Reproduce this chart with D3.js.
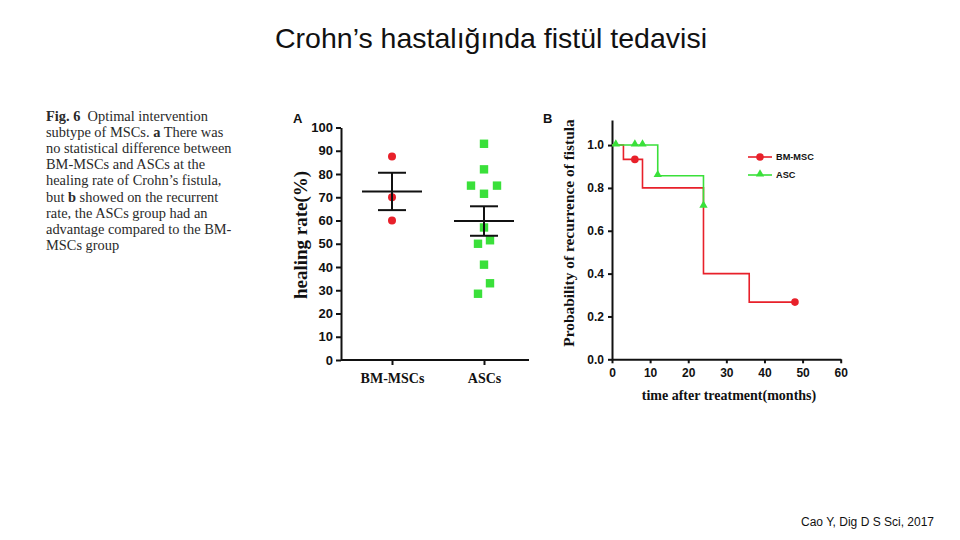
<!DOCTYPE html>
<html><head><meta charset="utf-8">
<script src="https://cdn.jsdelivr.net/npm/d3@7"></script>
<style>
html,body{margin:0;padding:0;background:#fff;}
svg{display:block;}
</style></head>
<body>
<svg id="c" width="960" height="540"></svg>
<script>
// ---------- data ----------
const titleText = "Crohn’s hastalığında fistül tedavisi";
const sourceText = "Cao Y, Dig D S Sci, 2017";
const categories = ["BM-MSCs", "ASCs"];
const bmHealing = [87.5, 70, 60];
const ascHealing = [93, 82, 75, 75, 71.5, 57, 51.5, 50, 41, 33, 28.5];
const healingTicks = [0,10,20,30,40,50,60,70,80,90,100];

const bmTimes = [0, 3, 8, 24, 36, 48];
const bmSurv  = [1, 0.933, 0.8, 0.4, 0.267, 0.267];
const bmCensorTimes = [6, 48];
const bmCensorSurv  = [0.933, 0.267];
const ascTimes = [0, 12, 24];
const ascSurv  = [1, 0.857, 0.714];
const ascCensorTimes = [1, 6, 8, 12, 24];
const ascCensorSurv  = [1, 1, 1, 0.857, 0.714];
const survTicks = [0, 0.2, 0.4, 0.6, 0.8, 1.0];
const timeTicks = [0, 10, 20, 30, 40, 50, 60];
const legendLabels = ["BM-MSC", "ASC"];

const captionLines = [
  [["Fig. 6", true], ["  Optimal intervention", false]],
  [["subtype of MSCs. ", false], ["a", true], [" There was", false]],
  [["no statistical difference between", false]],
  [["BM-MSCs and ASCs at the", false]],
  [["healing rate of Crohn’s fistula,", false]],
  [["but ", false], ["b", true], [" showed on the recurrent", false]],
  [["rate, the ASCs group had an", false]],
  [["advantage compared to the BM-", false]],
  [["MSCs group", false]]
];

// ---------- drawing ----------
const RED = "#e8202a", GREEN = "#3ae03a";
const svg = d3.select("#c");
const SANS = "'Liberation Sans', Arial, sans-serif";
const SERIF = "'Liberation Serif', 'Times New Roman', serif";

svg.append("text").attr("x", 491).attr("y", 48).attr("text-anchor", "middle")
  .style("font-family", SANS).style("font-size", "28.5px").attr("fill", "#111").text(titleText);
svg.append("text").attr("x", 934).attr("y", 526).attr("text-anchor", "end")
  .style("font-family", SANS).style("font-size", "12px").attr("fill", "#111").text(sourceText);

// caption
const cap = svg.append("g");
captionLines.forEach((line, i) => {
  const t = cap.append("text").attr("x", 46).attr("y", 121 + i * 16.1)
    .style("font-family", SERIF).style("font-size", "14.4px").attr("fill", "#2a2a2a")
    .attr("xml:space", "preserve");
  line.forEach(([s, b]) => t.append("tspan").style("font-weight", b ? "bold" : "normal").text(s));
});

// ----- Panel A -----
const gA = svg.append("g");
const axA = 341, baseA = 360;
const xA = d3.scalePoint().domain(categories).range([346, 530]).padding(0.5);
const yA = d3.scaleLinear().domain([0, 100]).range([baseA, 127.5]);

const yAxA = gA.append("g").attr("transform", `translate(${axA},0)`)
  .call(d3.axisLeft(yA).tickValues(healingTicks).tickSize(5).tickSizeOuter(0).tickPadding(3));
const xAxA = gA.append("g").attr("transform", `translate(0,${baseA})`)
  .call(d3.axisBottom(xA).tickSize(5).tickSizeOuter(0).tickPadding(8));
xAxA.select(".domain").remove();
gA.append("line").attr("x1", axA).attr("x2", 529).attr("y1", baseA).attr("y2", baseA)
  .attr("stroke", "#111").attr("stroke-width", 2);
[yAxA, xAxA].forEach(a => {
  a.selectAll("path,line").attr("stroke", "#111").attr("stroke-width", 2);
});
yAxA.selectAll("text").style("font-family", SANS).style("font-weight", "bold").style("font-size", "13px").attr("fill", "#111");
xAxA.selectAll("text").style("font-family", SERIF).style("font-weight", "bold").style("font-size", "14px").attr("fill", "#111");

gA.append("text").attr("transform", `translate(307,235) rotate(-90)`).attr("text-anchor", "middle")
  .style("font-family", SERIF).style("font-weight", "bold").style("font-size", "19px").attr("fill", "#111")
  .text("healing rate(%)");
svg.append("text").attr("x", 293).attr("y", 123).style("font-family", SANS).style("font-weight", "bold")
  .style("font-size", "13px").attr("fill", "#111").text("A");

// points
const bmX = xA(categories[0]), ascX = xA(categories[1]);
gA.selectAll(".bm").data(bmHealing).enter().append("circle")
  .attr("cx", bmX).attr("cy", d => yA(d)).attr("r", 4).attr("fill", RED);
const ascJitter = [0, 0, -13, 13, 0, 0, 6, -6, 0, 6, -6];
gA.selectAll(".asc").data(ascHealing).enter().append("rect")
  .attr("x", (d, i) => ascX + ascJitter[i] - 4.2).attr("y", d => yA(d) - 4.2)
  .attr("width", 8.4).attr("height", 8.4).attr("fill", GREEN);

// mean +- SEM
function meanSem(arr, cx) {
  const m = d3.mean(arr), sem = d3.deviation(arr) / Math.sqrt(arr.length);
  const g = gA.append("g").attr("stroke", "#111").attr("stroke-width", 2);
  g.append("line").attr("x1", cx - 30).attr("x2", cx + 30).attr("y1", yA(m)).attr("y2", yA(m));
  g.append("line").attr("x1", cx).attr("x2", cx).attr("y1", yA(m - sem)).attr("y2", yA(m + sem));
  [m - sem, m + sem].forEach(v => g.append("line").attr("x1", cx - 14).attr("x2", cx + 14)
    .attr("y1", yA(v)).attr("y2", yA(v)));
}
meanSem(bmHealing, bmX);
meanSem(ascHealing, ascX);

// ----- Panel B -----
const gB = svg.append("g");
const xB = d3.scaleLinear().domain([0, 60]).range([612, 840.7]);
const yB = d3.scaleLinear().domain([0, 1.117]).range([359.3, 120]);

const yAxB = gB.append("g").attr("transform", `translate(${xB(0)},0)`)
  .call(d3.axisLeft(yB).tickValues(survTicks).tickFormat(d3.format(".1f")).tickSize(4).tickSizeOuter(0).tickPadding(4));
const xAxB = gB.append("g").attr("transform", `translate(0,${yB(0)})`)
  .call(d3.axisBottom(xB).tickValues(timeTicks).tickSize(4).tickSizeOuter(0).tickPadding(5));
[yAxB, xAxB].forEach(a => {
  a.selectAll("path,line").attr("stroke", "#111").attr("stroke-width", 2);
  a.selectAll("text").style("font-family", SANS).style("font-weight", "bold").style("font-size", "12px").attr("fill", "#111");
});

gB.append("text").attr("transform", `translate(574,233) rotate(-90)`).attr("text-anchor", "middle")
  .style("font-family", SERIF).style("font-weight", "bold").style("font-size", "15.4px").attr("fill", "#111")
  .text("Probability of recurrence of fistula");
gB.append("text").attr("x", 729).attr("y", 400).attr("text-anchor", "middle")
  .style("font-family", SERIF).style("font-weight", "bold").style("font-size", "14px").attr("fill", "#111")
  .text("time after treatment(months)");
svg.append("text").attr("x", 543).attr("y", 123).style("font-family", SANS).style("font-weight", "bold")
  .style("font-size", "13px").attr("fill", "#111").text("B");

const step = d3.line().x(d => xB(d[0])).y(d => yB(d[1])).curve(d3.curveStepAfter);
gB.append("path").datum(d3.zip(bmTimes, bmSurv)).attr("d", step)
  .attr("fill", "none").attr("stroke", RED).attr("stroke-width", 1.6);
gB.append("path").datum(d3.zip(ascTimes, ascSurv)).attr("d", step)
  .attr("fill", "none").attr("stroke", GREEN).attr("stroke-width", 1.6);

gB.selectAll(".bmc").data(d3.zip(bmCensorTimes, bmCensorSurv)).enter().append("circle")
  .attr("cx", d => xB(d[0])).attr("cy", d => yB(d[1])).attr("r", 3.8).attr("fill", RED);
const tri = d3.symbol().type(d3.symbolTriangle).size(30);
gB.selectAll(".ascc").data(d3.zip(ascCensorTimes, ascCensorSurv)).enter().append("path")
  .attr("d", tri).attr("transform", d => `translate(${xB(d[0])},${yB(d[1]) - 1})`).attr("fill", GREEN);

// legend
const lg = gB.append("g");
const legY = [157, 175];
const legCol = [RED, GREEN];
legendLabels.forEach((lab, i) => {
  lg.append("line").attr("x1", 748).attr("x2", 772).attr("y1", legY[i]).attr("y2", legY[i])
    .attr("stroke", legCol[i]).attr("stroke-width", 1.6);
  if (i === 0) lg.append("circle").attr("cx", 760).attr("cy", legY[i]).attr("r", 3.8).attr("fill", RED);
  else lg.append("path").attr("d", tri).attr("transform", `translate(760,${legY[i] - 1})`).attr("fill", GREEN);
  lg.append("text").attr("x", 776).attr("y", legY[i] + 3.3)
    .style("font-family", SANS).style("font-weight", "bold").style("font-size", "9.2px").attr("fill", "#111").text(lab);
});
</script>
</body></html>
